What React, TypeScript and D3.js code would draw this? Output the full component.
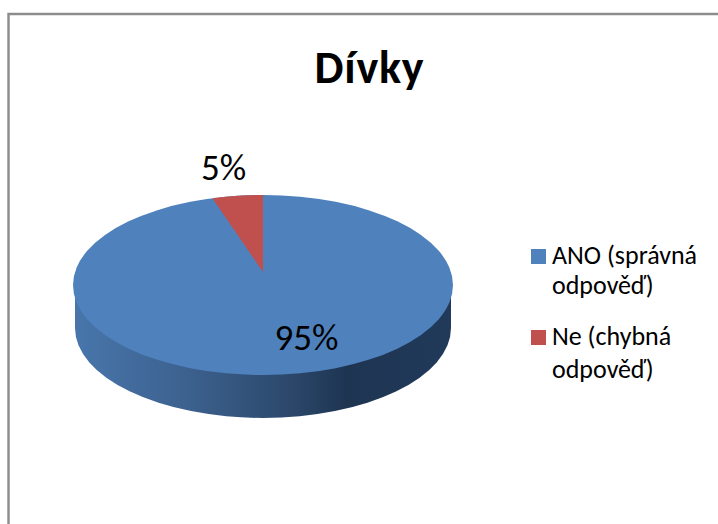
import React from "react";
import * as d3 from "d3";

const categories = ["ANO (správná odpověď)", "Ne (chybná odpověď)"];
const values = [95, 5];
const percentLabels = ["95%", "5%"];
const legendLines = [["ANO (správná", "odpověď)"], ["Ne (chybná", "odpověď)"]];
const colors = ["#4f81bd", "#c0504d"];
const title = "Dívky";

const W = 718, H = 524;
const cx = 263, cy = 285, rx = 190, ry = 90, depth = 44;
const apexX = 263, apexY = 272;
const FONT = "Carlito, Lato, 'Open Sans', sans-serif";

// Tilted-perspective projection: the ray from the apex in direction theta hits the top ellipse.
function rim(theta: number): [number, number] {
  const dx = rx * Math.sin(theta), dy = -ry * Math.cos(theta);
  const ox = apexX - cx, oy = apexY - cy;
  const a = (dx * dx) / (rx * rx) + (dy * dy) / (ry * ry);
  const b = 2 * ((ox * dx) / (rx * rx) + (oy * dy) / (ry * ry));
  const c = (ox * ox) / (rx * rx) + (oy * oy) / (ry * ry) - 1;
  const t = (-b + Math.sqrt(b * b - 4 * a * c)) / (2 * a);
  return [apexX + t * dx, apexY + t * dy];
}

export default function App() {
  const arcs = d3.pie<number>().sort(null).startAngle(0).endAngle(2 * Math.PI)(values);
  const line = d3.line();
  const wedge = (start: number, end: number) => {
    const pts = d3.range(0, 61).map((i) => rim(start + ((end - start) * i) / 60));
    return (line([[apexX, apexY], ...pts]) ?? "") + "Z";
  };
  const legendY = [249, 330];
  const legendBase = [[264, 294], [345, 378]];
  return (
    <svg width={W} height={H} style={{ position: "absolute", left: 0, top: 0, background: "#fff" }}>
      <defs>
        <linearGradient id="sideGrad" gradientUnits="userSpaceOnUse" x1={75} x2={452} y1={0} y2={0}>
          <stop offset="0" stopColor="#4876ab" />
          <stop offset="0.3" stopColor="#3c618e" />
          <stop offset="0.55" stopColor="#2d4a6e" />
          <stop offset="0.72" stopColor="#1e3552" />
          <stop offset="1" stopColor="#213a5a" />
        </linearGradient>
      </defs>
      <path d={`M8.5 524V14H718`} fill="none" stroke="#8c8c8c" strokeWidth={2.4} />
      <text x={369.5} y={83} textAnchor="middle" fontFamily={FONT} fontWeight={700} fontSize={46} letterSpacing={0.8} fill="#000">{title}</text>
      <path
        d={`M${cx - rx + 2} ${cy}V${cy + depth - 1}A${rx - 2} ${ry} 0 0 0 ${cx + rx - 2} ${cy + depth - 1}V${cy}Z`}
        fill="url(#sideGrad)"
      />
      <ellipse cx={cx} cy={cy} rx={rx} ry={ry} fill={colors[0]} />
      {arcs.map((a, i) =>
        i === 0 ? null : (
          <path key={categories[i]} d={wedge(a.startAngle, a.endAngle)} fill={colors[i]} />
        )
      )}
      <text x={306.5} y={350} textAnchor="middle" fontFamily={FONT} fontSize={37} fill="#000">{percentLabels[0]}</text>
      <text x={223.5} y={180} textAnchor="middle" fontFamily={FONT} fontSize={37} fill="#000">{percentLabels[1]}</text>
      {categories.map((c, i) => (
        <g key={c}>
          <rect x={531} y={legendY[i]} width={15} height={15} fill={colors[i]} />
          {legendLines[i].map((t, j) => (
            <text key={j} x={552} y={legendBase[i][j]} fontFamily={FONT} fontSize={26} fill="#000">{t}</text>
          ))}
        </g>
      ))}
    </svg>
  );
}
